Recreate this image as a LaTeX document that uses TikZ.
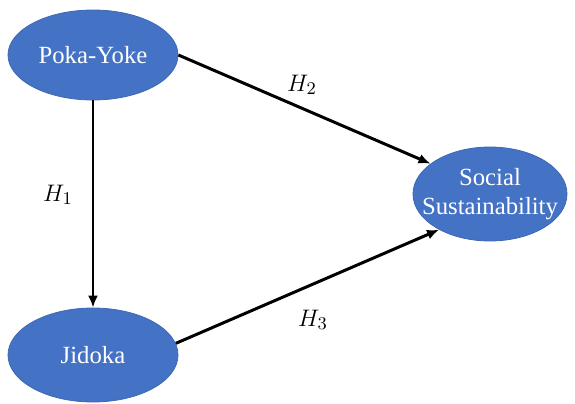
\documentclass[tikz,border=0pt]{standalone}
\usepackage{fontspec}
\setmainfont{Liberation Serif}
\usepackage{tikz}
\usetikzlibrary{arrows.meta,positioning,shapes.geometric}
\definecolor{ellblue}{HTML}{4472C4}
\definecolor{ellline}{HTML}{3F68B4}
\tikzset{
  >={Latex[length=6bp,width=5bp]},
  path/.style={->,draw=black,line width=1.5pt},
  construct/.style={ellipse,draw=ellline,fill=ellblue,line width=.4pt,
                    text=white,align=center,font=\fontsize{12.4}{14.5}\selectfont,
                    inner sep=0pt},
  hyp/.style={font=\fontsize{13}{15}\selectfont},
}
\begin{document}
\begin{tikzpicture}[x=1bp,y=1bp]
  \useasboundingbox (0,0) rectangle (287.5,-202);
  \node[construct,minimum width=85bp,minimum height=45bp] (poka) at (46.5,-27.5) {Poka-Yoke};
  \node[construct,minimum width=85bp,minimum height=47bp] (jidoka) at (46.5,-177.5) {Jidoka};
  \node[construct,inner xsep=-8bp,minimum width=77bp,minimum height=47bp] (social) at (245,-97) {Social\\Sustainability};

  \draw[path] (poka) -- (jidoka);
  \draw[path] (poka.east) -- (social.153);
  \draw[path] (jidoka.8) -- (social.215);

  \node[hyp] (h1) at (29,-97.5) {$H_1$};
  \node[hyp] (h2) at (151,-42.5) {$H_2$};
  \node[hyp] (h3) at (156.5,-160) {$H_3$};
\end{tikzpicture}
\end{document}
